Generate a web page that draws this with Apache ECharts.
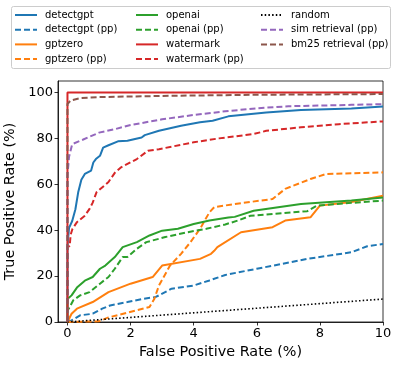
<!DOCTYPE html>
<html>
<head>
<meta charset="utf-8">
<script src="https://cdn.jsdelivr.net/npm/echarts@6/dist/echarts.min.js"></script>
<style>html,body{margin:0;padding:0;background:#fff}#c{width:399px;height:368px}</style>
</head>
<body>
<div id="c"></div>
<script>
const xTicks = [0, 2, 4, 6, 8, 10];
const yTicks = [0, 20, 40, 60, 80, 100];

const detectgpt = [[0,0],[0,33],[0.03,33],[0.05,41],[0.15,44],[0.25,49],[0.34,56.5],[0.44,62],[0.55,64.5],[0.75,66],[0.82,69.5],[0.9,71],[1.03,72.4],[1.13,76],[1.3,77],[1.6,78.7],[1.9,79],[2.35,80.4],[2.45,81.4],[2.9,83.3],[3.6,85.5],[4.2,87],[4.6,87.7],[5.1,89.6],[6.3,91.3],[7.4,92.4],[9,93],[10,93.9]];
const detectgptPP = [[0,0],[0.13,0.7],[0.4,2.9],[0.8,3.6],[1.1,5.8],[1.35,7.2],[1.9,8.7],[2.4,10.1],[2.8,10.9],[3.3,14.5],[4,15.9],[4.5,18.1],[5,20.5],[6,23.2],[6.8,25.3],[7.6,27.5],[9,30.4],[9.5,33],[10,34]];
const gptzero = [[0,0],[0.13,3.6],[0.3,5.8],[0.8,8.7],[1.3,13],[2,16.7],[2.7,19.6],[3,24.6],[4.2,27.5],[4.55,29.7],[4.65,31],[4.75,32.6],[5.5,39.1],[6.5,41.3],[6.9,44.2],[7.7,45.6],[8,50.7],[9,52.3],[10,55]];
const gptzeroPP = [[0,0],[1,0.3],[1.3,2],[2.6,6.5],[2.75,10],[2.9,15.9],[3.25,24.6],[3.6,29.7],[3.9,34.8],[4.2,40.6],[4.5,47.8],[4.65,50],[5.3,51.4],[6.5,53.6],[6.9,58],[7.7,62.3],[8.2,64.5],[10,65.2]];
const openai = [[0,0],[0,10],[0.13,11.6],[0.3,15],[0.55,18],[0.8,19.6],[1.03,23.2],[1.2,24.6],[1.5,28.3],[1.75,32.6],[2.2,34.8],[2.6,37.7],[3,39.8],[3.5,40.6],[4,42.7],[4.5,44.2],[5.1,45.5],[5.3,45.8],[5.9,48.5],[7.4,51.4],[9,52.9],[10,54.2]];
const openaiPP = [[0,0],[0,5],[0.05,6],[0.18,9.4],[0.4,11.6],[0.7,13],[1.03,16.7],[1.3,19.6],[1.5,23.2],[1.75,28.3],[1.9,28.3],[2.2,31.9],[2.5,34.8],[3.1,37],[3.8,39.1],[4.4,40.6],[5,42.5],[5.4,44.2],[5.8,46.3],[7.6,48.3],[7.9,50.7],[9,51.9],[10,52.9]];
const watermark = [[0,0],[0,100],[10,100]];
const watermarkPP = [[0,0],[0,33],[0.07,33],[0.1,38],[0.16,40.6],[0.3,43.5],[0.55,46.3],[0.7,49.3],[0.8,52],[0.92,56.5],[1.3,61],[1.5,65],[1.7,67.4],[2.2,71],[2.55,74.6],[2.9,75.3],[4,78.3],[4.8,80],[5.9,81.9],[6.3,83.3],[7.4,84.8],[8.6,86.2],[10,87.4]];
const random = [[0,0],[10,10]];
const simRetrievalPP = [[0,0],[0,64],[0.05,72],[0.15,77.5],[0.5,79.5],[1,82.5],[1.5,84],[2,85.8],[3,88.3],[4,90.2],[5,91.8],[6,93.1],[7,94],[8,94.3],[9,94.6],[10,94.9]];
const bm25RetrievalPP = [[0,0],[0,95],[0.1,96.5],[0.4,97.5],[1,98],[3,98.5],[6,99],[10,99.3]];

const C = {blue:'#1f77b4', orange:'#ff7f0e', green:'#2ca02c', red:'#d62728', purple:'#9467bd', brown:'#8c564b', black:'#000000'};
const DASH = [6, 3];
const DOT = [1.5, 2.2];

function mk(name, data, color, type) {
  return {
    name, type: 'line', data, symbol: 'none', showSymbol: false,
    animation: false,
    lineStyle: {color, width: 2, type},
    itemStyle: {color},
    emphasis: {disabled: true}
  };
}

const series = [
  mk('detectgpt', detectgpt, C.blue, 'solid'),
  mk('detectgpt (pp)', detectgptPP, C.blue, DASH),
  mk('gptzero', gptzero, C.orange, 'solid'),
  mk('gptzero (pp)', gptzeroPP, C.orange, DASH),
  mk('openai', openai, C.green, 'solid'),
  mk('openai (pp)', openaiPP, C.green, DASH),
  mk('watermark', watermark, C.red, 'solid'),
  mk('watermark (pp)', watermarkPP, C.red, DASH),
  mk('random', random, C.black, DOT),
  mk('sim retrieval (pp)', simRetrievalPP, C.purple, DASH),
  mk('bm25 retrieval (pp)', bm25RetrievalPP, C.brown, DASH)
];
series[8].lineStyle.width = 1.6;

const legBase = {
  orient: 'vertical', padding: 0, itemWidth: 22, itemHeight: 10, itemGap: 4.7,
  selectedMode: false, z: 10,
  itemStyle: {color: 'rgba(0,0,0,0)', borderWidth: 0, opacity: 0},
  textStyle: {fontFamily: 'DejaVu Sans', fontSize: 10, color: '#000', padding: [0,0,0,3]}
};

const chart = echarts.init(document.getElementById('c'), null, {renderer: 'canvas'});
chart.setOption({
  animation: false,
  backgroundColor: '#fff',
  grid: {left: 58, right: 16, top: 81, bottom: 46, show: true, borderColor: '#000', borderWidth: 0.8, backgroundColor: 'transparent', containLabel: false, outerBoundsMode: 'none'},
  legend: [
    Object.assign({}, legBase, {left: 14, top: 10, data: ['detectgpt','detectgpt (pp)','gptzero','gptzero (pp)']}),
    Object.assign({}, legBase, {left: 135, top: 10, data: ['openai','openai (pp)','watermark','watermark (pp)']}),
    Object.assign({}, legBase, {left: 260, top: 10, data: ['random','sim retrieval (pp)','bm25 retrieval (pp)']})
  ],
  graphic: [{
    type: 'rect', shape: {x: 11.5, y: 6.5, width: 379, height: 62, r: 2},
    style: {fill: 'none', stroke: '#cccccc', lineWidth: 1}, z: 0, silent: true
  }],
  xAxis: {
    type: 'value', min: -0.3, max: 10,
    name: 'False Positive Rate (%)', nameLocation: 'middle', nameGap: 22,
    nameTextStyle: {fontFamily: 'DejaVu Sans', fontSize: 14.4, color: '#000', verticalAlign: 'top'},
    axisLine: {show: true, onZero: false, lineStyle: {color: '#000', width: 0.8}},
    axisTick: {show: true, length: 3.5, lineStyle: {color: '#000', width: 0.8}, customValues: xTicks},
    axisLabel: {fontFamily: 'DejaVu Sans', fontSize: 13, color: '#000', margin: 5, customValues: xTicks},
    splitLine: {show: false}
  },
  yAxis: {
    type: 'value', min: 0, max: 105,
    name: 'True Positive Rate (%)', nameLocation: 'middle', nameGap: 36,
    nameTextStyle: {fontFamily: 'DejaVu Sans', fontSize: 14.4, color: '#000'},
    axisLine: {show: true, onZero: false, lineStyle: {color: '#000', width: 0.8}},
    axisTick: {show: true, length: 3.5, lineStyle: {color: '#000', width: 0.8}, customValues: yTicks},
    axisLabel: {fontFamily: 'DejaVu Sans', fontSize: 13, color: '#000', margin: 5, customValues: yTicks},
    splitLine: {show: false}
  },
  series
});
</script>
</body>
</html>
